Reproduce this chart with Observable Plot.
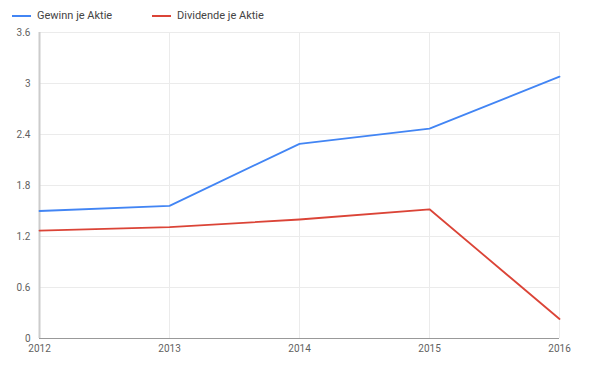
<!DOCTYPE html>
<html><head><meta charset="utf-8">
<script src="https://cdn.jsdelivr.net/npm/d3@7"></script>
<script src="https://cdn.jsdelivr.net/npm/@observablehq/plot@0.6"></script>
<style>
body{margin:0;background:#fff;font-family:Roboto,"Noto Sans",sans-serif;}
#legend{height:24px;position:relative;font-size:11px;color:#444;}
.item{position:absolute;top:9px;display:flex;align-items:center;white-space:nowrap;}
.sw{width:19px;height:2px;margin-right:6px;}
</style></head>
<body>
<div id="legend"></div>
<div id="chart"></div>
<script>
const years = [2012, 2013, 2014, 2015, 2016];
const gewinn = [1.50, 1.56, 2.29, 2.47, 3.08];
const dividende = [1.27, 1.31, 1.40, 1.52, 0.23];
const seriesNames = ["Gewinn je Aktie", "Dividende je Aktie"];
const colors = ["#4285f4", "#db4437"];
const yTicks = [0, 0.6, 1.2, 1.8, 2.4, 3, 3.6];

const legend = document.getElementById("legend");
const legendX = [12, 152];
seriesNames.forEach((n, i) => {
  const d = document.createElement("div");
  d.className = "item";
  d.style.left = legendX[i] + "px";
  d.innerHTML = `<span class="sw" style="background:${colors[i]}"></span><span>${n}</span>`;
  legend.appendChild(d);
});

const data = [];
years.forEach((y, i) => {
  data.push({year: y, value: gewinn[i], series: seriesNames[0]});
  data.push({year: y, value: dividende[i], series: seriesNames[1]});
});

const chart = Plot.plot({
  width: 610,
  height: 346,
  marginTop: 8,
  marginBottom: 32,
  marginLeft: 39,
  marginRight: 51,
  style: {fontFamily: "Roboto, 'Noto Sans', sans-serif", fontSize: "10px", color: "#5f5f5f", background: "#fff"},
  x: {domain: [2012, 2016]},
  y: {domain: [0, 3.6]},
  color: {domain: seriesNames, range: colors},
  marks: [
    Plot.ruleY(yTicks.filter(d => d > 0), {stroke: "#ebebeb", strokeWidth: 1}),
    Plot.ruleX(years.slice(1), {stroke: "#ebebeb", strokeWidth: 1}),
    Plot.ruleX([2012], {stroke: "#cccccc", strokeWidth: 2}),
    Plot.ruleY([0], {stroke: "#999999", strokeWidth: 1}),
    Plot.axisY({ticks: yTicks, tickSize: 0, tickPadding: 9, tickFormat: d => String(d), label: null, fill: "#5f5f5f"}),
    Plot.axisX({ticks: years, tickSize: 0, tickPadding: 6, tickFormat: d => String(d), label: null, fill: "#5f5f5f"}),
    Plot.line(data, {x: "year", y: "value", stroke: "series", z: "series", strokeWidth: 1.8})
  ]
});
document.getElementById("chart").appendChild(chart);
</script>
</body></html>
